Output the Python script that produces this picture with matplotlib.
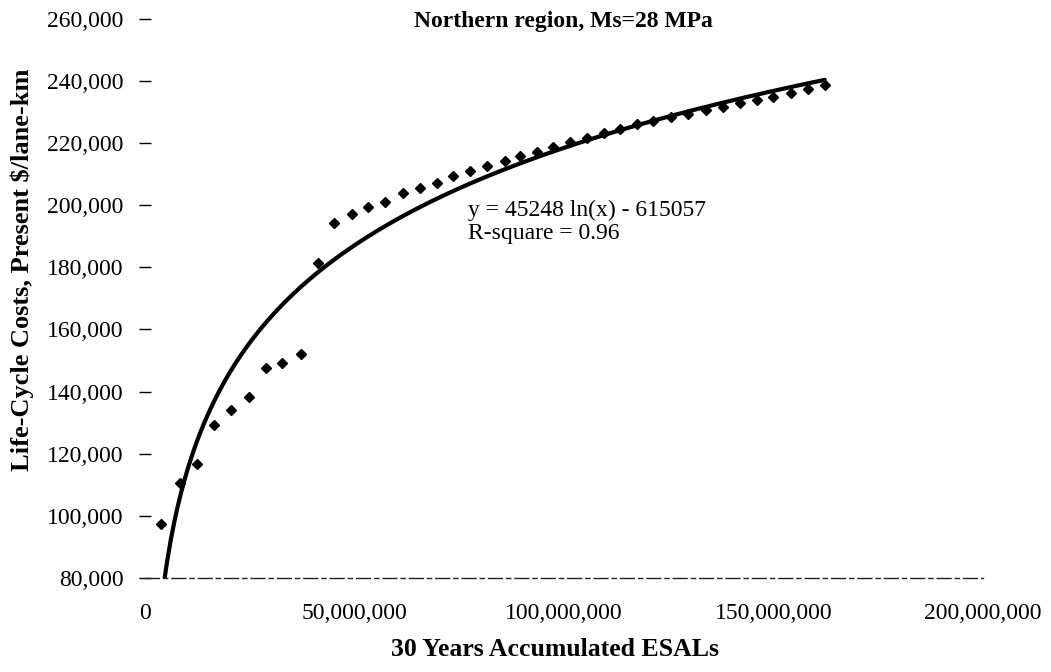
import numpy as np
import matplotlib
matplotlib.use("Agg")
import matplotlib.pyplot as plt
from matplotlib.ticker import FuncFormatter

# 30 years accumulated ESALs (millions) and life-cycle costs ($/lane-km)
esals_m = [3.8, 8.35, 12.3, 16.5, 20.5, 24.8, 28.9, 32.8, 37.2, 41.4,
           45.2, 49.3, 53.3, 57.3, 61.6, 65.6, 69.6, 73.6, 77.6, 81.6,
           85.9, 89.5, 93.5, 97.4, 101.4, 105.6, 109.5, 113.5, 117.5, 121.3,
           125.7, 129.7, 133.9, 138.0, 142.0, 146.0, 150.0, 154.3, 158.3, 162.3]
costs = [97400, 110500, 116600, 129200, 134100, 138200, 147500, 149300, 152000, 181500,
         194400, 197100, 199400, 201000, 203900, 205500, 207300, 209300, 210900, 212700,
         214300, 215700, 217200, 218600, 220200, 221600, 223200, 224500, 226100, 227000,
         228300, 229300, 230800, 231500, 232900, 233900, 234700, 236100, 237400, 238700]

# log trend line shown on the chart
fit_a = 45248
fit_b = -615057
fit_text = "y = 45248 ln(x) - 615057"
r2_text = "R-square = 0.96"

title = "Northern region, Ms=28 MPa"
xlabel = "30 Years Accumulated ESALs"
ylabel = "Life-Cycle Costs, Present $/lane-km"

serif = ["Liberation Serif", "DejaVu Serif"]
plt.rcParams['font.family'] = serif

x = np.array(esals_m) * 1e6
y = np.array(costs)

fig = plt.figure(figsize=(10.51, 6.72), dpi=100)
ax = fig.add_axes([0.138, 0.140, 0.797, 0.832])

# data points
ax.plot(x, y, linestyle='none', marker='D', markersize=5.5, color='black')

# trend line
xs = np.linspace(x.min(), x.max(), 400)
ax.plot(xs, fit_a * np.log(xs) + fit_b, color='black', linewidth=3, solid_capstyle='round')

ax.set_xlim(0, 200e6)
ax.set_ylim(80000, 260000)
ax.set_xticks(np.arange(0, 200e6 + 1, 50e6))
ax.set_yticks(np.arange(80000, 260001, 20000))
ax.xaxis.set_major_formatter(FuncFormatter(lambda v, p: f"{v:,.0f}"))
ax.yaxis.set_major_formatter(FuncFormatter(lambda v, p: f"{v:,.0f}"))

for side in ['top', 'right', 'left']:
    ax.spines[side].set_visible(False)
ax.spines['bottom'].set_linewidth(1)
ax.spines['bottom'].set_linestyle((0, (10, 3, 3, 3)))
ax.spines['bottom'].set_color('#222222')

ax.tick_params(axis='x', length=0, pad=18, labelsize=17)
ax.tick_params(axis='y', direction='inout', length=9, width=1, pad=11, labelsize=17)

ax.text(0.5, 0.995, title, transform=ax.transAxes, ha='center', va='center',
        fontsize=17, fontweight='bold')
ax.text(0.386, 0.658, fit_text, transform=ax.transAxes, ha='left', va='center', fontsize=17)
ax.text(0.386, 0.616, r2_text, transform=ax.transAxes, ha='left', va='center', fontsize=17)

fig.text(555 / 1051, 1 - 649 / 672, xlabel, ha='center', va='center', fontsize=18.5, fontweight='bold')
fig.text(22 / 1051, 1 - 270 / 672, ylabel, ha='center', va='center', rotation=90,
         fontsize=19, fontweight='bold')

fig.savefig("out.png", dpi=100)
